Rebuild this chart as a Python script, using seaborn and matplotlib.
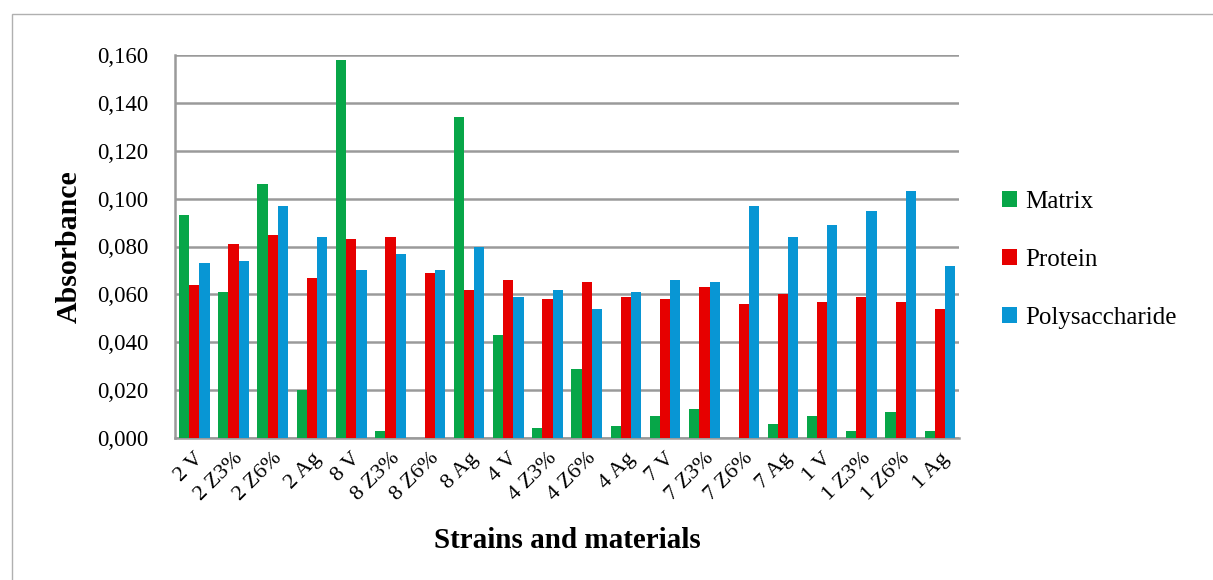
import pandas as pd
import matplotlib.pyplot as plt
import seaborn as sns
from matplotlib.ticker import FuncFormatter
from matplotlib.patches import Rectangle

# data
samples = ["2 V", "2 Z3%", "2 Z6%", "2 Ag", "8 V", "8 Z3%", "8 Z6%", "8 Ag",
           "4 V", "4 Z3%", "4 Z6%", "4 Ag", "7 V", "7 Z3%", "7 Z6%", "7 Ag",
           "1 V", "1 Z3%", "1 Z6%", "1 Ag"]
matrix = [0.093, 0.061, 0.106, 0.020, 0.158, 0.003, 0.000, 0.134,
          0.043, 0.004, 0.029, 0.005, 0.009, 0.012, 0.000, 0.006,
          0.009, 0.003, 0.011, 0.003]
protein = [0.064, 0.081, 0.085, 0.067, 0.083, 0.084, 0.069, 0.062,
           0.066, 0.058, 0.065, 0.059, 0.058, 0.063, 0.056, 0.060,
           0.057, 0.059, 0.057, 0.054]
polysaccharide = [0.073, 0.074, 0.097, 0.084, 0.070, 0.077, 0.070, 0.080,
                  0.059, 0.062, 0.054, 0.061, 0.066, 0.065, 0.097, 0.084,
                  0.089, 0.095, 0.103, 0.072]

df = pd.DataFrame({"sample": samples, "Matrix": matrix,
                   "Protein": protein, "Polysaccharide": polysaccharide})
long_df = df.melt(id_vars="sample", var_name="component", value_name="absorbance")

colors = {"Matrix": "#07a648", "Protein": "#e60000", "Polysaccharide": "#0896d4"}

sns.set_style("white")
plt.rcParams["font.family"] = ["Liberation Serif", "DejaVu Serif"]
plt.rcParams["text.color"] = "black"
plt.rcParams["axes.labelcolor"] = "black"
plt.rcParams["xtick.color"] = "black"
plt.rcParams["ytick.color"] = "black"

fig = plt.figure(figsize=(12.13, 5.80), dpi=100)
ax = fig.add_axes([0.144, 0.245, 0.647, 0.66])

# light frame around the chart
fig.patches.append(Rectangle((12 / 1213, -0.05), 1.2, (580 - 14) / 580 + 0.05,
                             transform=fig.transFigure, fill=False,
                             edgecolor="#b0b0b0", linewidth=1))

sns.barplot(data=long_df, x="sample", y="absorbance", hue="component",
            palette=colors, saturation=1, width=0.78, ax=ax,
            edgecolor="none", zorder=3)

ax.set_ylim(0, 0.16)
ax.set_yticks([i * 0.02 for i in range(9)])
ax.yaxis.set_major_formatter(FuncFormatter(lambda v, p: f"{v:.3f}".replace(".", ",")))
ax.set_xlim(-0.5, len(samples) - 0.5)
ax.grid(axis="y", color="#9a9a9a", linewidth=1.8, zorder=0)

for s in ["top", "right"]:
    ax.spines[s].set_visible(False)
for s in ["left", "bottom"]:
    ax.spines[s].set_color("#9a9a9a")
    ax.spines[s].set_linewidth(1.8)

ax.tick_params(axis="y", length=7, width=1.5, color="#9a9a9a", labelsize=16.5,
               labelcolor="black", pad=12)
ax.tick_params(axis="x", length=0, labelsize=16, labelcolor="black", pad=8)
plt.setp(ax.get_xticklabels(), rotation=45, ha="right", rotation_mode="anchor")

ax.set_xlabel("Strains and materials", fontsize=21, fontweight="bold", labelpad=16)
ax.set_ylabel("Absorbance", fontsize=21.5, fontweight="bold", labelpad=10)

ax.legend(title=None, frameon=False, fontsize=18, loc="center left",
          bbox_to_anchor=(1.025, 0.465), handlelength=0.6, handleheight=0.6,
          labelspacing=1.45, handletextpad=0.35)

fig.savefig("out.png", dpi=100)
